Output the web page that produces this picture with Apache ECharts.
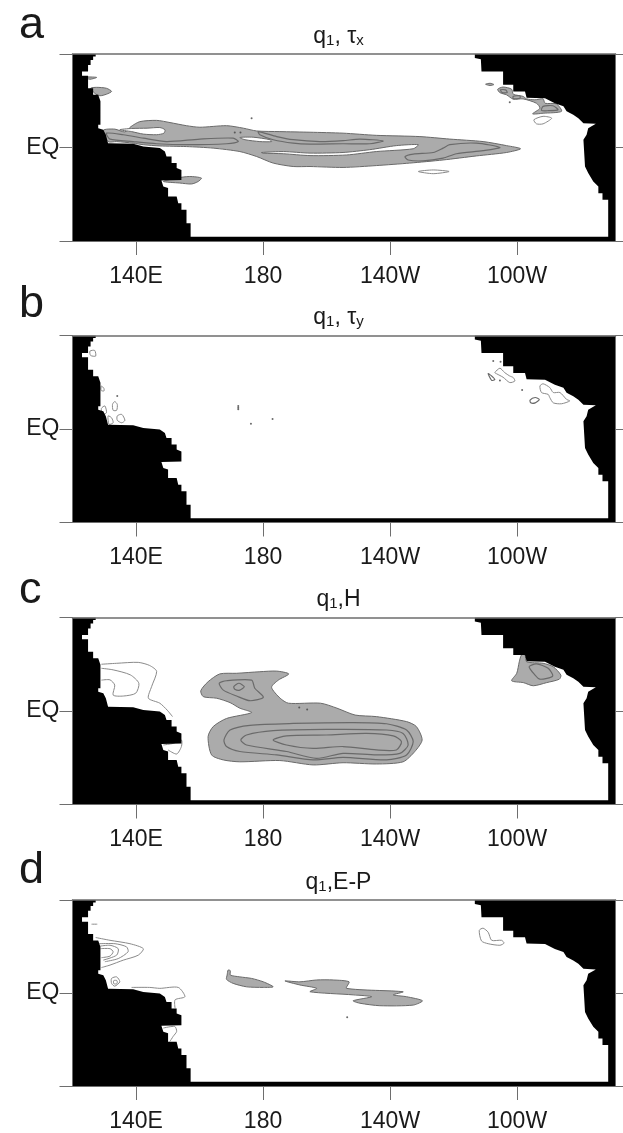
<!DOCTYPE html>
<html><head><meta charset="utf-8">
<style>html,body{margin:0;padding:0;background:#fff}#c{width:623px;height:1133px}</style>
<script src="https://cdn.jsdelivr.net/npm/echarts@6/dist/echarts.min.js"></script>
</head><body><div id="c"></div>
<script>
// Tick values and labels
const lonTicks=[140,180,220,260];
const lonLabels=['140E','180','140W','100W'];
const latTicks=[-30,0,30];
const lonRange=[120,291];
const latRange=[-30,30];
// Land mask, lon(0-360) / lat
const land=[[120,30],[127.3,30],[127.3,29.2],[126.5,29.2],[126.5,28.1],[125.7,28.1],[125.7,26.5],[124.9,26.5],[124.9,24.4],[123,24.4],[123,23],[124.9,23],[124.9,19],[126.5,19],[126.5,16.9],[128.1,16.9],[128.8,14.8],[128.8,7.3],[128.1,7.3],[128.1,6.2],[129.7,5.7],[130.5,4.1],[131.2,1.4],[139.1,1.2],[142.3,.3],[147.5,-.2],[149.1,-1.3],[149.6,-2.9],[151.2,-2.9],[151.2,-5],[152.8,-5],[152.8,-6.6],[154.3,-7.2],[154.3,-10.4],[148,-10.6],[148.6,-12.5],[150.1,-13],[150.1,-15.7],[152.8,-15.7],[153.3,-17.9],[154.3,-17.9],[154.3,-20],[155.9,-20],[155.9,-24.3],[157.2,-24.3],[157.2,-28.6],[288.7,-28.6],[288.7,-16.8],[286.9,-16.8],[286.9,-14.7],[285.6,-14.7],[285.6,-12.5],[284,-10.9],[282.4,-8.2],[281.4,-6.1],[280.9,2.5],[281.9,4.1],[282.4,6.2],[284.8,7.6],[280.9,7.8],[279.3,9.4],[277.7,10.5],[275.6,11.6],[274.6,13.2],[271.9,14.2],[268.8,15.8],[263,16],[262.5,18],[258.8,18],[258.8,20.1],[255.6,20.1],[255.6,24.4],[248.8,24.4],[248.6,28.3],[246.7,28.7],[246.7,30],[291,30],[291,-30],[120,-30]];

// Panel a: q1, tau_x
const aTongue=[[129.7,5.5],[133.3,5.9],[136.5,5],[138.4,6.7],[141.2,8.3],[146.5,8.7],[150.7,8],[155.9,7],[160.1,6.5],[168.5,7],[173.8,6.2],[178,5.3],[185.3,5.1],[194.8,4.9],[205.2,4.6],[215.7,3.9],[229.4,3.5],[238.8,2.7],[249.3,1.9],[256.7,.6],[261.1,-.4],[256.7,-1.6],[247.2,-2.7],[236.7,-4],[226.2,-5],[215.7,-5.8],[205.2,-6.4],[194.8,-6.1],[189.5,-6.1],[183.2,-5],[178,-2.9],[172.7,-1.3],[164.3,-.2],[155.9,.3],[147.5,.5],[142.3,.9],[139.1,1.4],[133.9,1.9],[131.2,1.9]];
const aPatch1=[[125.7,19],[127.6,19.3],[130.7,19],[132.3,18],[130.7,17.1],[128.6,16.6],[127,17.4]];
const aPatch2=[[123.4,22.6],[127.6,22.5],[125.5,21.9]];
const aPatch3=[[148.6,-10.9],[152.8,-9.8],[156.9,-9.3],[160.6,-9.8],[159.6,-10.9],[157.5,-11.7],[153.8,-11.4]];
const aPatch4=[[250.1,20.3],[251.5,20.6],[252.7,20.2],[251.5,19.9]];
const aCoastE=[[253.9,18.7],[255.6,19.4],[258.3,18.7],[258.8,17.1],[261.9,16.4],[263,15.6],[265.6,15.3],[268.2,15.6],[268.8,14.2],[272.4,14],[274,11.6],[268.2,11],[264.9,10.8],[267.2,12.6],[266.1,14.2],[261.9,15.6],[258.8,15.5],[256.7,16.9],[254.6,17.6]];
const aBay=[[138.6,6.1],[143.5,6.2],[147.5,6.4],[149.1,5.7],[148.8,4.6],[146.5,4.1],[142.3,4.3],[138.6,5.1],[134.9,5.7]];
const aHole1=[[172.7,3.2],[176.9,3.3],[182.2,2.5],[182.7,1.9],[179,1.9],[174.3,2.5]];
const aHole2=[[179.5,-1.6],[186.4,-1.3],[194.8,-1.8],[205.2,-1.6],[213.6,-.7],[222,.6],[228.9,.9],[227.3,-.4],[215.7,-1.3],[206.3,-2.4],[194.8,-2.6],[186.4,-2],[180,-1.8]];
const aRing1=[[130.7,4.6],[136,4.1],[142.3,3],[149.6,1.9],[160.1,2.7],[170.6,3],[172.2,1.9],[168.5,1.2],[155.9,.9],[146.5,1.2],[139.1,1.9],[131.8,2.7]];
const aRing2=[[178.5,5.1],[184.3,3.5],[189.5,2.5],[197.9,1.9],[205.2,2.2],[210.5,2.7],[217.8,2.1],[213.6,1.2],[205.2,1.2],[194.8,1.1],[189.5,1.4],[183.2,2.5],[179,4.1]];
const aRing3=[[224.7,-2.9],[227.3,-2.1],[233.6,-1.6],[236.7,-.2],[238.8,.9],[247.2,1.4],[254.6,0],[249.3,-1],[240.9,-2],[236.7,-3.4],[230.4,-4.3],[225.7,-4]];
const aRing4=[[254.8,18.5],[256.4,18.5],[256.9,17.6],[255.3,17.6]];
const aRing5=[[258.8,16.4],[260.9,16.6],[260.9,15.8],[258.8,15.7]];
const aRing6=[[268.2,13.2],[271.3,13.4],[272.9,12.1],[269.8,11.8],[267.7,11.9]];
const aOpen1=[[228.9,-7.7],[233.6,-7.2],[238.6,-7.7],[233.6,-8.4]];
const aOpen2=[[265.3,8.9],[268.2,10],[270.9,9.4],[268.2,7.6],[266.1,7.6]];
const aDots=[[176.4,9.4],[171.1,4.8],[172.9,4.8],[257.7,14.5]];

// Panel b: q1, tau_y
const bLoop1=[[132.6,7.9],[133.3,8.8],[134.1,7.9],[133.9,6],[132.8,6]];
const bLoop2=[[134.1,4.2],[135.5,4.7],[136.5,2.8],[135.5,2],[134.1,2.8]];
const bLoop3=[[129.1,6.6],[130.2,7.4],[130.7,5.2],[129.4,4.7]];
const bLoop4=[[131.2,4.2],[132.3,3.6],[132.8,2],[131.5,1.5]];
const bLoop5=[[125.5,25],[127,25.2],[127.3,23.4],[125.7,23.6]];
const bLoop6=[[129.1,13.8],[129.9,13],[129.9,12.2],[129,12.4]];
const bLoop7=[[253,18.1],[254.6,19.5],[256.1,18.1],[257.7,17],[258.8,16.5],[259.3,15.4],[257.7,14.9],[255.6,16.6],[253.6,17.7]];
const bLoop8=[[250.9,17.8],[252,17],[253,15.9],[252,15.6]];
const bLoop9=[[267.2,13.8],[268.2,14.5],[270.3,13.3],[271.4,11.7],[273.5,11.7],[275.6,9.5],[276.6,9],[274,8.1],[271.4,8.4],[270.3,10.1],[269.8,11.1],[267.7,11.7]];
const bLoop10=[[264.1,9.3],[265.7,10.1],[267,9.5],[265.7,8.4],[264.3,8.4]];
const bDots=[[172.2,7.4],[172.2,6.8],[172.2,6.3],[176.2,1.7],[183,3.2],[134.1,10.6],[254.6,15.6],[252.5,21.8],[254.8,21.6],[261.6,12.5]];

// Panel c: q1, H
const cMain=[[160.4,6.5],[162.7,9.4],[166.4,11.9],[171.7,12.1],[179,12.6],[184.3,12.8],[188.1,11.9],[184.8,9.9],[182.7,7.6],[185.4,4.1],[188,2.5],[198.1,2.5],[203.3,.9],[209,-1.3],[215.7,-1.8],[225.2,-3.4],[228.3,-5],[230.1,-9.3],[227.8,-13],[224.1,-16.3],[215.7,-17],[205.2,-16.6],[195.8,-17.3],[185.3,-15.9],[172.7,-16.3],[167.5,-15.7],[163.8,-14.1],[162.7,-8.2],[164.3,-5],[168.5,-2.4],[176.4,-.5],[172.7,.9],[169.6,2.7],[165.4,4.1],[161.2,4.6]];
const cEast=[[258.3,9.7],[259.9,12.1],[260.7,15.8],[261.4,18],[262.5,18],[263,15.8],[268.2,15.3],[271.4,14.2],[273.8,11.5],[273.3,10.2],[269.3,9.1],[265.1,8.1],[262,9.1]];
const cRing1=[[166.2,8.9],[168.5,9.7],[176.4,9.9],[177.4,7.3],[180.1,4.4],[175.9,3.3],[171.7,4.8],[167.5,6.7]];
const cRing2=[[170.8,7.8],[172.4,8.9],[174.1,7.8],[172.7,6.7],[171.1,7]];
const cRing3=[[167.7,-9.3],[169.6,-6.1],[175.9,-4.6],[189.5,-4],[208.4,-3.7],[218.9,-4.1],[225.2,-6.1],[227.3,-9.8],[225.2,-14.1],[218.9,-15.7],[205.2,-14.9],[195.8,-15.7],[184.3,-14.1],[172.7,-13],[168.5,-11.4]];
const cRing4=[[173,-9.3],[174.8,-7.7],[183.2,-6.3],[200,-5.9],[218.9,-6.1],[224.1,-7.2],[225.7,-10.9],[223.1,-13.6],[215.7,-14.1],[205.2,-13.6],[196.8,-15.2],[187.4,-13],[174.8,-10.9]];
const cRing5=[[183.2,-9.3],[187.4,-8],[200,-7.7],[212.6,-7.2],[221,-8],[223.6,-9.8],[222,-12.5],[215.7,-12.5],[205.2,-11.4],[195.8,-12],[187.4,-10.9]];
const cRing6=[[263.8,14.2],[266.1,15.1],[269.8,13.7],[271.2,11.2],[267.2,10.2],[265.6,11.6]];
const cOpen1=[[129.1,15],[133.8,15.3],[140.7,15.6],[144.3,14.6],[146.5,12.7],[144.9,7.8],[143.9,4.1],[147.5,2.5],[149.8,.3],[151.5,-1.8]];
const cOpen2=[[129.1,13.7],[132.8,13.2],[138.2,11.6],[140.9,8.9],[139.9,5.7],[136,4.8],[132.8,5.1],[133.3,8.3],[131.8,10],[129.1,9.9]];
const cOpen3=[[148.6,-10.9],[151.7,-10.4],[154.3,-9.3],[154.3,-11.4],[152.8,-13.8],[150.1,-12.5]];
const cDots=[[191.4,1.1],[193.9,.5]];

// Panel d: q1, E-P
const dIsle=[[169,7.4],[169.7,7.2],[169.7,5.8],[172.7,5.2],[176.4,4.7],[180.1,3.6],[183.2,2],[180.1,1.8],[174.8,2],[170.6,3.1],[168.5,4.4],[168.7,5.8]];
const dBand=[[186.9,3.9],[191.6,3.6],[196.9,4.2],[202.1,4.2],[207.1,3.6],[206.3,1.5],[224.1,.4],[221,-.6],[225.2,-1.2],[230.2,-2.5],[227.3,-3.9],[216.8,-4.1],[210.5,-3.3],[208.4,-2.5],[214.2,-1.2],[208.4,-.6],[194.8,.4],[196.9,1.5],[191.6,2.6]];
const dOpen1=[[127.3,17.9],[131.8,17],[138.1,15.9],[142.3,14.3],[140.7,12.2],[136,10.6],[131.8,9],[129.1,8.2]];
const dOpen2=[[128.4,15.9],[133.4,15.9],[137,14.9],[137.5,13.3],[134.4,11.1],[130.2,10.1]];
const dOpen3=[[128.6,15.1],[131.8,15.4],[134.4,14.3],[133.9,12.2],[129.7,10.6]];
const dOpen4=[[128.8,14.3],[131.8,14.3],[132.8,13.3],[131.8,11.9],[129.1,11.4]];
const dOpen5=[[138.6,1.8],[144.3,1.8],[147.5,1.5],[153.3,1.8],[155.4,-1.2],[152.3,-2.2],[152.3,-4.9]];
const dOpen6=[[148.6,-11.3],[152.2,-10.8],[152.8,-12.4],[151.7,-14],[150.7,-15.6]];
const dOpen7=[[126,22.2],[127.8,22.2]];
const dLoop1=[[132.3,4.7],[133.9,5.2],[134.9,3.6],[133.3,2.2],[132.3,3.1]];
const dLoop2=[[133,4],[134,4],[134,3],[133,3]];
const dLoop3=[[248.1,20.2],[249.3,20.9],[250.9,19.6],[252,17],[255.1,17],[255.9,16.1],[254.6,15.4],[250.9,15.9],[248.8,16.8]];
const dDots=[[206.5,-7.8]];

const FILL='#ababab',LINE='#6a6a6a',THIN='#8a8a8a';
const panels=[
 {top:54,letterTop:3,letter:'a',sub:'x',main:' τ',fills:[aTongue,aPatch1,aPatch2,aPatch3,aPatch4,aCoastE],holes:[aBay,aHole1,aHole2],loops:[aRing1,aRing2,aRing3,aRing4,aRing5,aRing6],thin:[aOpen1,aOpen2],open:[],dots:aDots},
 {top:335.5,letterTop:282,letter:'b',sub:'y',main:' τ',fills:[],holes:[],loops:[bLoop8,bLoop10],thin:[bLoop1,bLoop2,bLoop3,bLoop4,bLoop5,bLoop6,bLoop7,bLoop9],open:[],dots:bDots},
 {top:617.5,letterTop:568,letter:'c',sub:'',main:'H',fills:[cMain,cEast],holes:[],loops:[cRing1,cRing2,cRing3,cRing4,cRing5,cRing6],thin:[],open:[cOpen1,cOpen2,cOpen3],dots:cDots},
 {top:900,letterTop:848,letter:'d',sub:'',main:'E-P',fills:[dIsle,dBand],holes:[],loops:[],thin:[dLoop1,dLoop2,dLoop3],open:[dOpen1,dOpen2,dOpen3,dOpen4,dOpen5,dOpen6,dOpen7],dots:dDots}
];

function poly(pts,idx,kind,z){
  const st={fill:{fill:FILL,stroke:LINE,lineWidth:1},hole:{fill:'#fff',stroke:LINE,lineWidth:1},loop:{fill:'none',stroke:LINE,lineWidth:1.2},thin:{fill:'none',stroke:THIN,lineWidth:1},open:{fill:'none',stroke:THIN,lineWidth:1},land:{fill:'#000',stroke:'none',lineWidth:0}}[kind];
  const type=kind==='open'?'polyline':'polygon';
  return {type:'custom',coordinateSystem:'cartesian2d',xAxisIndex:idx*2,yAxisIndex:idx*2,z:z,silent:true,clip:true,data:pts,encode:{x:0,y:1},
    renderItem:function(params,api){
      if(params.dataIndex!==0)return null;
      return {type:type,shape:{points:pts.map(p=>api.coord(p)),smooth:kind==='land'?0:0.25},style:Object.assign({},st)};
    }};
}
const grid=[],xAxis=[],yAxis=[],series=[],title=[];
const axisColor='#6e6e6e';
panels.forEach((p,i)=>{
  grid.push({left:72.5,width:543,top:p.top,height:187});
  xAxis.push({gridIndex:i,type:'value',position:'bottom',min:lonRange[0],max:lonRange[1],z:10,splitLine:{show:false},
    axisLine:{show:true,onZero:false,lineStyle:{color:axisColor,width:1}},
    axisTick:{show:true,length:14,customValues:lonTicks,lineStyle:{color:axisColor,width:1}},
    axisLabel:{show:true,customValues:lonTicks,margin:24,fontFamily:'Liberation Sans',fontSize:23,color:'#1a1a1a',formatter:v=>lonLabels[lonTicks.indexOf(v)]}});
  xAxis.push({gridIndex:i,type:'value',position:'top',min:lonRange[0],max:lonRange[1],z:10,splitLine:{show:false},
    axisLine:{show:true,onZero:false,lineStyle:{color:axisColor,width:1.5}},axisTick:{show:false},axisLabel:{show:false}});
  yAxis.push({gridIndex:i,type:'value',position:'left',min:latRange[0],max:latRange[1],z:10,splitLine:{show:false},
    axisLine:{show:true,onZero:false,lineStyle:{color:axisColor,width:1}},
    axisTick:{show:true,length:13,customValues:latTicks,lineStyle:{color:axisColor,width:1}},
    axisLabel:{show:true,customValues:[0],margin:13,fontFamily:'Liberation Sans',fontSize:23,color:'#1a1a1a',formatter:v=>v===0?'EQ':''}});
  yAxis.push({gridIndex:i,type:'value',position:'right',min:latRange[0],max:latRange[1],z:10,splitLine:{show:false},
    axisLine:{show:true,onZero:false,lineStyle:{color:axisColor,width:1}},
    axisTick:{show:true,length:13,customValues:latTicks,lineStyle:{color:axisColor,width:1}},axisLabel:{show:false}});
  p.fills.forEach(s=>series.push(poly(s,i,'fill',2)));
  p.holes.forEach(s=>series.push(poly(s,i,'hole',3)));
  p.loops.forEach(s=>series.push(poly(s,i,'loop',4)));
  p.thin.forEach(s=>series.push(poly(s,i,'thin',4)));
  p.open.forEach(s=>series.push(poly(s,i,'open',4)));
  series.push(poly(land,i,'land',5));
  series.push({type:'scatter',xAxisIndex:i*2,yAxisIndex:i*2,z:6,silent:true,symbol:'circle',symbolSize:2,itemStyle:{color:'#444'},data:p.dots});
  title.push({text:p.letter,left:19,top:p.letterTop,textStyle:{fontFamily:'Liberation Sans',fontWeight:'normal',fontSize:45,color:'#1a1a1a'},padding:0});
  const sub=p.sub?'{s|'+p.sub+'}':'';
  title.push({text:'{m|q}{s|1}{m|,'+p.main+'}'+sub,left:338.5,top:p.top-29,textAlign:'center',padding:0,
    textStyle:{fontWeight:'normal',rich:{m:{fontFamily:'Liberation Sans',fontWeight:'normal',fontSize:23,color:'#1a1a1a'},s:{fontFamily:'Liberation Sans',fontWeight:'normal',fontSize:15,color:'#1a1a1a',verticalAlign:'bottom',padding:[8,0,0,0]}}}});
});
const chart=echarts.init(document.getElementById('c'),null,{renderer:'canvas'});
chart.setOption({animation:false,backgroundColor:'#fff',tooltip:{show:false},grid,xAxis,yAxis,series,title});
</script></body></html>
